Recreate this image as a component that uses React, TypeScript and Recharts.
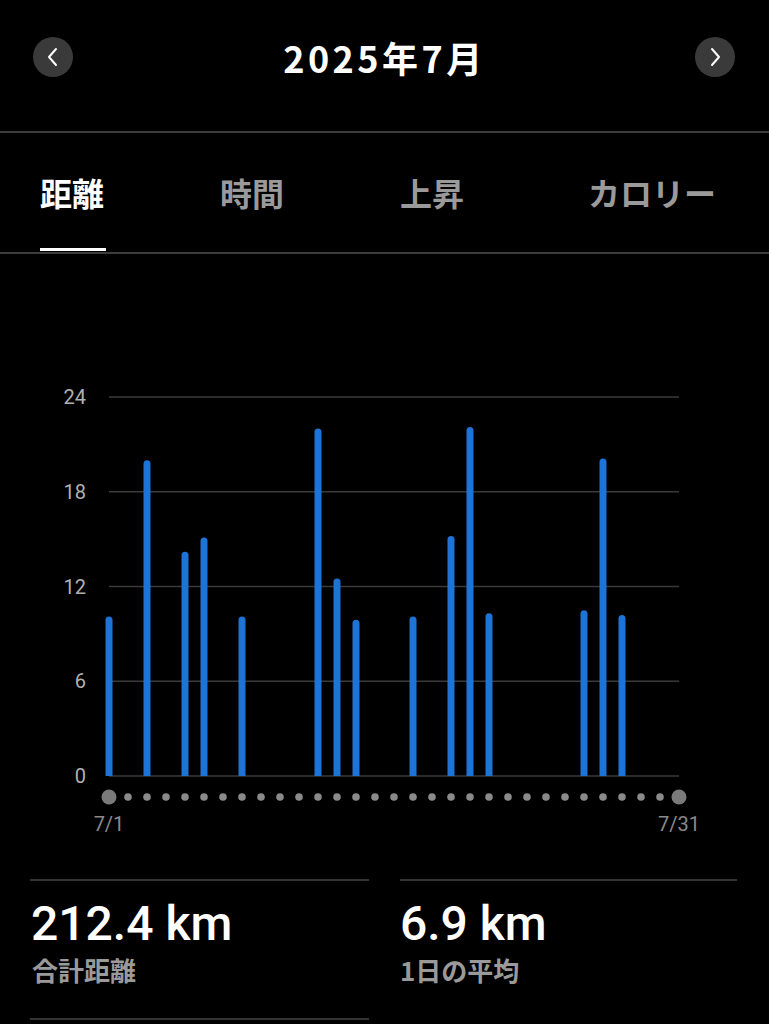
import { Bar, BarChart, CartesianGrid, XAxis, YAxis } from "recharts"

const days = [
  1, 2, 3, 4, 5, 6, 7, 8, 9, 10, 11, 12, 13, 14, 15, 16, 17, 18, 19, 20, 21, 22, 23, 24, 25, 26, 27, 28,
  29, 30, 31,
]
const distances = [
  10.1, 0, 20.0, 0, 14.2, 15.1, 0, 10.1, 0, 0, 0, 22.0, 12.5, 9.9, 0, 0, 10.1, 0, 15.2, 22.1, 10.3, 0, 0,
  0, 0, 10.5, 20.1, 10.2, 0, 0, 0,
]
const yTicks = [0, 6, 12, 18, 24]
const tabs = ["距離", "時間", "上昇", "カロリー"]
const month = "2025年7月"
const totalLabel = "合計距離"
const totalValue = "212.4 km"
const avgLabel = "1日の平均"
const avgValue = "6.9 km"

const data = days.map((d, i) => ({ day: d, km: distances[i] }))

const jp = '"Noto Sans CJK JP", sans-serif'
const num = 'Roboto, "Noto Sans", sans-serif'

function DayTick(props: any) {
  const { x, y, payload } = props
  const d = payload.value
  const isEnd = d === days[0] || d === days[days.length - 1]
  return (
    <g>
      <circle cx={x} cy={y + 21} r={isEnd ? 7.5 : 3.8} fill={isEnd ? "#7a7a7a" : "#8a8a8a"} />
      {isEnd && (
        <text x={x} y={y + 55} textAnchor="middle" fill="#8a8a8a" fontSize={20} fontFamily={num}>
          {`7/${d}`}
        </text>
      )}
    </g>
  )
}

function NavButton({ left, dir }: { left: number; dir: string }) {
  return (
    <div
      style={{
        position: "absolute",
        left,
        top: 37,
        width: 40,
        height: 40,
        borderRadius: 20,
        background: "#3a3a3a",
      }}
    >
      <svg width={40} height={40}>
        <polyline
          points={dir === "l" ? "23,12 16,20 23,28" : "17,12 24,20 17,28"}
          fill="none"
          stroke="#ffffff"
          strokeWidth={2}
          strokeLinecap="round"
          strokeLinejoin="round"
        />
      </svg>
    </div>
  )
}

export default function App() {
  const tabLeft = [40, 220, 400, 588]
  return (
    <div
      style={{
        position: "absolute",
        left: 0,
        top: 0,
        width: 769,
        height: 1024,
        background: "#000",
        overflow: "hidden",
        fontFamily: jp,
      }}
    >
      <NavButton left={33} dir="l" />
      <NavButton left={695} dir="r" />
      <div
        style={{
          position: "absolute",
          left: 0,
          width: 769,
          top: 33,
          textAlign: "center",
          color: "#fff",
          fontSize: 36,
          fontWeight: 700,
          letterSpacing: 3.5,
          lineHeight: "48px",
        }}
      >
        {month}
      </div>
      <div style={{ position: "absolute", left: 0, top: 131, width: 769, height: 2, background: "#3c3c3c" }} />

      {tabs.map((t, i) => (
        <div
          key={t}
          style={{
            position: "absolute",
            left: tabLeft[i],
            top: 171,
            fontSize: 32,
            fontWeight: 700,
            lineHeight: "42px",
            color: i === 0 ? "#ffffff" : "#9a9a9a",
          }}
        >
          {t}
        </div>
      ))}
      <div style={{ position: "absolute", left: 40, top: 248, width: 66, height: 3, background: "#fff" }} />
      <div style={{ position: "absolute", left: 0, top: 252, width: 769, height: 2, background: "#3c3c3c" }} />

      <div style={{ position: "absolute", left: 0, top: 377 }}>
        <BarChart width={769} height={469} data={data} margin={{ top: 20, right: 90, left: 1, bottom: 0 }}>
          <CartesianGrid vertical={false} stroke="#3a3a3a" strokeWidth={1.5} />
          <XAxis
            dataKey="day"
            type="number"
            domain={[1, 31]}
            ticks={days}
            interval={0}
            axisLine={false}
            tickLine={false}
            tickSize={0}
            tickMargin={0}
            height={70}
            tick={<DayTick />}
          />
          <YAxis
            domain={[0, 24]}
            ticks={yTicks}
            width={108}
            axisLine={false}
            tickLine={false}
            tickSize={0}
            tickMargin={23}
            tick={{ fill: "#b0b0b0", fontSize: 20, fontFamily: num }}
          />
          <Bar dataKey="km" fill="#1e74d6" barSize={7} radius={[3.5, 3.5, 0, 0]} isAnimationActive={false} />
        </BarChart>
      </div>

      <div style={{ position: "absolute", left: 30, top: 879, width: 339, height: 2, background: "#333" }} />
      <div style={{ position: "absolute", left: 400, top: 879, width: 337, height: 2, background: "#333" }} />
      <div style={{ position: "absolute", left: 30, top: 1018, width: 339, height: 2, background: "#333" }} />

      <div
        style={{
          position: "absolute",
          left: 31,
          top: 896,
          color: "#fff",
          fontSize: 48,
          fontWeight: 500,
          fontFamily: num,
          lineHeight: "56px",
        }}
      >
        {totalValue}
      </div>
      <div
        style={{ position: "absolute", left: 32, top: 952, color: "#9a9a9a", fontSize: 26, fontWeight: 700, lineHeight: "36px" }}
      >
        {totalLabel}
      </div>
      <div
        style={{
          position: "absolute",
          left: 400,
          top: 896,
          color: "#fff",
          fontSize: 48,
          fontWeight: 500,
          fontFamily: num,
          lineHeight: "56px",
        }}
      >
        {avgValue}
      </div>
      <div
        style={{ position: "absolute", left: 400, top: 952, color: "#9a9a9a", fontSize: 26, fontWeight: 700, lineHeight: "36px" }}
      >
        {avgLabel}
      </div>
    </div>
  )
}
